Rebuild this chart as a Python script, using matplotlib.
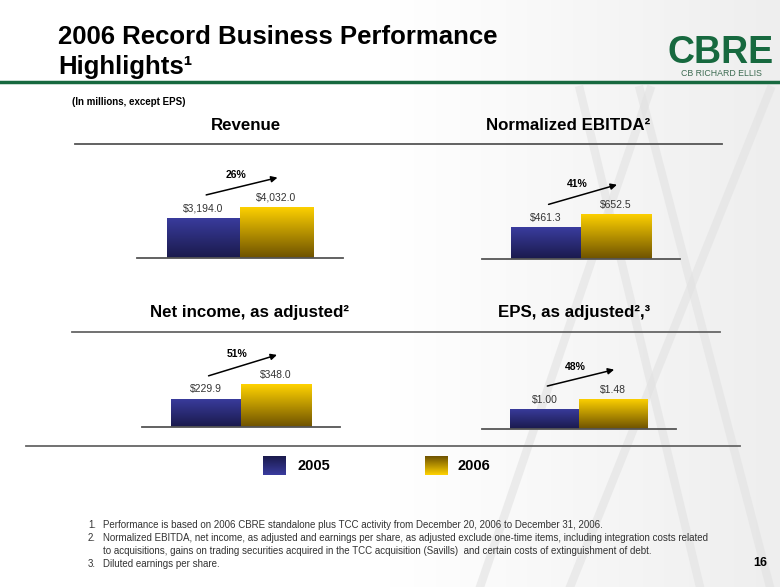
import numpy as np
import matplotlib
matplotlib.use("Agg")
import matplotlib.pyplot as plt
from matplotlib.colors import LinearSegmentedColormap

plt.rcParams['font.family'] = ['Liberation Sans', 'DejaVu Sans']

# data
panel_titles = ["Revenue", "Normalized EBITDA²", "Net income, as adjusted²", "EPS, as adjusted²,³"]
years = ["2005", "2006"]
values_2005 = [3194.0, 461.3, 229.9, 1.00]
values_2006 = [4032.0, 652.5, 348.0, 1.48]
growth = ["26%", "41%", "51%", "48%"]
label_fmt = ["${:,.1f}", "${:,.1f}", "${:,.1f}", "${:.2f}"]
footnote_nums = ["1.", "2.", "", "3."]
footnotes = [
    "Performance is based on 2006 CBRE standalone plus TCC activity from December 20, 2006 to December 31, 2006.",
    "Normalized EBITDA, net income, as adjusted and earnings per share, as adjusted exclude one-time items, including integration costs related",
    "to acquisitions, gains on trading securities acquired in the TCC acquisition (Savills)  and certain costs of extinguishment of debt.",
    "Diluted earnings per share.",
]

# layout (pixels)
W, H = 780, 587
panel_left = [137, 482, 142, 482]
panel_width = [206, 198, 198, 194]
base_y = [258, 259, 427, 429]
title_xy = [(246, 125), (568, 125), (250, 313), (574, 313)]
ax_h = 100
headroom = [1.96, 2.22, 2.33, 3.33]

cmap05 = LinearSegmentedColormap.from_list("c05", ["#1a1a4c", "#3a3c9e"])
cmap06 = LinearSegmentedColormap.from_list("c06", ["#6e5200", "#ffd200"])
green = "#17693f"

fig = plt.figure(figsize=(W / 100, H / 100), dpi=100)
bg = fig.add_axes([0, 0, 1, 1])
bg.set_xlim(0, W)
bg.set_ylim(H, 0)
bg.axis('off')

# light background on the right side
grad = np.linspace(0, 1, 256).reshape(1, -1)
bg_cmap = LinearSegmentedColormap.from_list("bg", ["#ffffff", "#ffffff", "#eeeeee"])
bg.imshow(grad, extent=[0, W, H, 0], aspect='auto', cmap=bg_cmap, zorder=0)
for x0, x1 in [(480, 650), (570, 770), (700, 580), (770, 640)]:
    bg.plot([x0, x1], [H, 90], color="#e2e2e2", lw=6, alpha=0.6, zorder=0.5)

# header
bg.text(58, 37, "2006 Record Business Performance", fontsize=18.5, fontweight='bold', va='center', ha='left')
bg.text(58, 67, "Highlights¹", fontsize=18.5, fontweight='bold', va='center', ha='left')
bg.plot([0, W], [82, 82], color=green, lw=2.5)
bg.text(721, 53, "CBRE", fontsize=27, fontweight='bold', color=green, ha='center', va='center')
bg.text(721, 74, "CB RICHARD ELLIS", fontsize=6.3, color="#3d6b52", ha='center', va='center')
bg.text(72, 102, "(In millions, except EPS)", fontsize=7, fontweight='bold', ha='left', va='center')

# separator lines
bg.plot([75, 722], [144, 144], color="#555555", lw=1.3)
bg.plot([72, 720], [332, 332], color="#666666", lw=1.3)
bg.plot([26, 740], [446, 446], color="#666666", lw=1.3)

for (tx, ty), t in zip(title_xy, panel_titles):
    bg.text(tx, ty, t, fontsize=12.2, fontweight='bold', ha='center', va='center')

for i in range(4):
    ax = fig.add_axes([panel_left[i] / W, 1 - base_y[i] / H, panel_width[i] / W, ax_h / H])
    ax.patch.set_alpha(0)
    vals = [values_2005[i], values_2006[i]]
    ytop = values_2006[i] * headroom[i]
    bars = ax.bar([0, 1], vals, width=1.0, color="none", edgecolor="none")
    for b, cm in zip(bars, [cmap05, cmap06]):
        x0 = b.get_x()
        im = ax.imshow(np.linspace(0, 1, 100).reshape(-1, 1), extent=[x0, x0 + 1, 0, b.get_height()],
                       origin='lower', aspect='auto', cmap=cm, zorder=2)
        im.set_clip_path(b)
    for x, v in zip([0, 1], vals):
        ax.annotate(label_fmt[i].format(v), (x, v), xytext=(0, 3), textcoords='offset points',
                    ha='center', va='bottom', fontsize=7.5, color="#333333")
    u = ytop / ax_h  # data units per pixel
    start = (0.0, vals[0] + 22 * u)
    end = (1.05, vals[1] + 30 * u)
    ax.annotate("", xy=end, xytext=start, annotation_clip=False,
                arrowprops=dict(arrowstyle='-|>', color='black', lw=1.1, mutation_scale=9))
    ax.text(0.45, (start[1] + end[1]) / 2 + 11 * u, growth[i], fontsize=7.5, fontweight='bold',
            ha='center', va='center', clip_on=False)
    ax.set_xlim(-0.91, 1.91)
    ax.set_ylim(0, ytop)
    for s in ["top", "left", "right"]:
        ax.spines[s].set_visible(False)
    ax.spines["bottom"].set_color("#555555")
    ax.spines["bottom"].set_linewidth(1.3)
    ax.set_xticks([])
    ax.set_yticks([])

# legend
for (sx, tx), cm, yr in zip([(263, 297), (425, 458)], [cmap05, cmap06], years):
    bg.imshow(np.linspace(0, 1, 100).reshape(-1, 1), extent=[sx, sx + 23, 475, 456],
              aspect='auto', cmap=cm, origin='upper', zorder=2)
    bg.text(tx, 466, yr, fontsize=10.5, fontweight='bold', ha='left', va='center')
bg.set_xlim(0, W)
bg.set_ylim(H, 0)

# footnotes
for k, (num, t) in enumerate(zip(footnote_nums, footnotes)):
    y = 525 + 13 * k
    bg.text(88, y, num, fontsize=7, color="#333333", ha='left', va='center')
    bg.text(103, y, t, fontsize=7, color="#333333", ha='left', va='center')
bg.text(760, 563, "16", fontsize=9, fontweight='bold', ha='center', va='center')

fig.savefig("out.png", dpi=100)
